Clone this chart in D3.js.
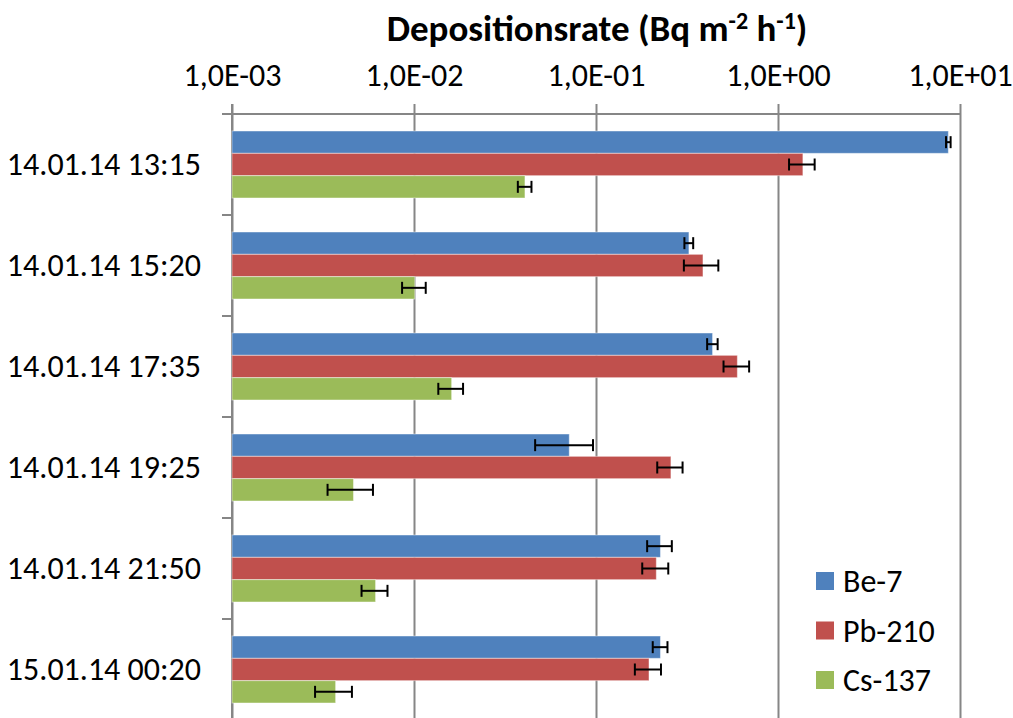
<!DOCTYPE html>
<html lang="de">
<head>
    <title>Depositionsrate</title>
    <meta charset="UTF-8">
    <script src="https://d3js.org/d3.v7.min.js"></script>
    <style>
      body { margin: 0; background: #fff; }
      text { font-family: Calibri, Carlito, "Liberation Sans", sans-serif; fill: #000; }
    </style>
</head>
<body>
    <svg id="chart" width="1013" height="718"></svg>

    <script>
      // categories (sampling times) and series
      let categories = ["14.01.14 13:15", "14.01.14 15:20", "14.01.14 17:35",
                        "14.01.14 19:25", "14.01.14 21:50", "15.01.14 00:20"]
      let series = ["Be-7", "Pb-210", "Cs-137"]
      let colors = ["#4F81BD", "#C0504D", "#9BBB59"]

      // values in Bq m-2 h-1
      let be7    = [8.63, 0.324, 0.437, 0.0713, 0.226, 0.226]
      let pb210  = [1.37, 0.387, 0.598, 0.258, 0.2145, 0.1955]
      let cs137  = [0.0407, 0.0101, 0.0161, 0.00465, 0.00615, 0.00371]
      // error (+/-)
      let be7Err   = [0.25, 0.018, 0.029, 0.025, 0.035, 0.021]
      let pb210Err = [0.22, 0.083, 0.096, 0.041, 0.035, 0.032]
      let cs137Err = [0.0035, 0.0015, 0.0025, 0.0013, 0.001, 0.00085]

      let tickValues = [1e-3, 1e-2, 1e-1, 1e0, 1e1]

      let values = [be7, pb210, cs137]
      let errors = [be7Err, pb210Err, cs137Err]

      let rows = []
      categories.forEach((c, i) => {
        series.forEach((s, j) => {
          rows.push({cat: c, series: s, color: colors[j], value: values[j][i], err: errors[j][i]})
        })
      })

      let svg = d3.select("#chart")
      let plotLeft = 232, plotRight = 960, plotTop = 114, plotBottom = 720

      let xScale = d3.scaleLog().domain([1e-3, 10]).range([plotLeft, plotRight])
      let yScale = d3.scaleBand().domain(categories).range([plotTop, plotBottom])
      let ySub = d3.scaleBand().domain(series).range([17, yScale.bandwidth() - 17])

      let fmt = v => {
        let e = Math.round(Math.log10(v))
        return "1,0E" + (e < 0 ? "-" : "+") + String(Math.abs(e)).padStart(2, "0")
      }

      // gridlines
      svg.append("g")
        .attr("transform", `translate(0,${plotTop})`)
        .call(d3.axisTop(xScale).tickValues(tickValues).tickSize(-(718 - plotTop)).tickFormat(""))
        .call(g => g.select(".domain").remove())
        .selectAll("line").attr("stroke", "#868686").attr("stroke-width", 2)

      // top axis with labels
      let xAxis = svg.append("g")
        .attr("transform", `translate(0,${plotTop})`)
        .call(d3.axisTop(xScale).tickValues(tickValues).tickSize(10).tickPadding(18).tickFormat(fmt))
      xAxis.select(".domain").remove()
      xAxis.selectAll("line").attr("stroke", "#868686").attr("stroke-width", 2)
      xAxis.selectAll("text").attr("font-size", 32).attr("font-family", null)
      svg.append("line")
        .attr("x1", plotLeft - 10).attr("x2", plotRight)
        .attr("y1", plotTop).attr("y2", plotTop)
        .attr("stroke", "#868686").attr("stroke-width", 2)

      // left axis line and category ticks at band boundaries
      svg.append("line")
        .attr("x1", plotLeft).attr("x2", plotLeft)
        .attr("y1", plotTop - 10).attr("y2", 718)
        .attr("stroke", "#868686").attr("stroke-width", 2)
      svg.append("g").selectAll("line")
        .data(categories.slice(1)).enter()
        .append("line")
          .attr("x1", plotLeft - 10).attr("x2", plotLeft)
          .attr("y1", d => yScale(d)).attr("y2", d => yScale(d))
          .attr("stroke", "#868686").attr("stroke-width", 2)

      let yAxis = svg.append("g")
        .attr("transform", `translate(${plotLeft},0)`)
        .call(d3.axisLeft(yScale).tickSize(0).tickPadding(31))
      yAxis.select(".domain").remove()
      yAxis.selectAll("text").attr("font-size", 32).attr("font-family", null)

      // bars
      let groups = svg.append("g").selectAll("g")
        .data(rows).enter()
        .append("g")
          .attr("transform", d => `translate(0,${yScale(d.cat) + ySub(d.series)})`)

      groups.append("rect")
        .attr("x", xScale(1e-3))
        .attr("y", 0)
        .attr("width", d => xScale(d.value) - xScale(1e-3))
        .attr("height", ySub.bandwidth())
        .attr("fill", d => d.color)
        .attr("stroke", "rgba(255,255,255,0.45)")
        .attr("stroke-width", 1)

      // error bars
      let bw = ySub.bandwidth()
      groups.append("line")
        .attr("x1", d => xScale(d.value - d.err)).attr("x2", d => xScale(d.value + d.err))
        .attr("y1", bw / 2).attr("y2", bw / 2)
        .attr("stroke", "#000").attr("stroke-width", 2)
      groups.append("line")
        .attr("x1", d => xScale(d.value - d.err)).attr("x2", d => xScale(d.value - d.err))
        .attr("y1", bw / 2 - 6).attr("y2", bw / 2 + 6)
        .attr("stroke", "#000").attr("stroke-width", 2)
      groups.append("line")
        .attr("x1", d => xScale(d.value + d.err)).attr("x2", d => xScale(d.value + d.err))
        .attr("y1", bw / 2 - 6).attr("y2", bw / 2 + 6)
        .attr("stroke", "#000").attr("stroke-width", 2)

      // title
      let title = svg.append("text")
        .attr("x", 597).attr("y", 41)
        .attr("text-anchor", "middle")
        .attr("font-size", 37).attr("font-weight", "bold")
      title.append("tspan").text("Depositionsrate (Bq m")
      title.append("tspan").attr("dy", -12).attr("font-size", 24).text("-2")
      title.append("tspan").attr("dy", 12).text(" h")
      title.append("tspan").attr("dy", -12).attr("font-size", 24).text("-1")
      title.append("tspan").attr("dy", 12).text(")")

      // legend
      let legend = svg.append("g").selectAll("g")
        .data(series).enter()
        .append("g")
          .attr("transform", (d, i) => `translate(816,${572 + i * 49.5})`)
      legend.append("rect")
        .attr("width", 18).attr("height", 18)
        .attr("fill", (d, i) => colors[i])
      legend.append("text")
        .attr("x", 27).attr("y", 9).attr("dy", "0.35em")
        .attr("font-size", 32)
        .text(d => d)
    </script>
</body>
</html>
